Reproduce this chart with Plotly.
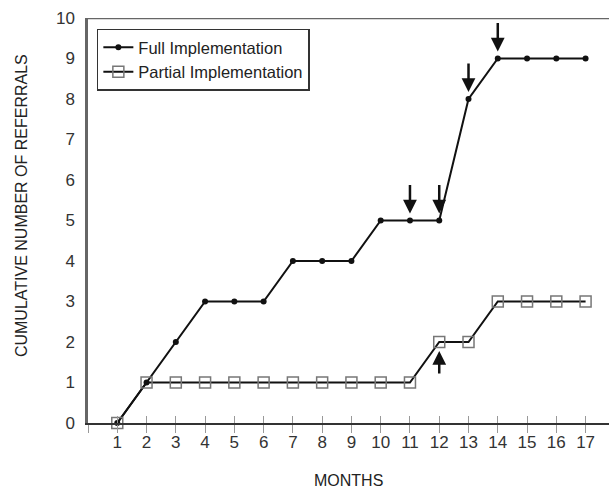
import plotly.graph_objects as go

months = list(range(1, 18))
full_impl = [0, 1, 2, 3, 3, 3, 4, 4, 4, 5, 5, 5, 8, 9, 9, 9, 9]
partial_impl = [0, 1, 1, 1, 1, 1, 1, 1, 1, 1, 1, 2, 2, 3, 3, 3, 3]
down_arrow_months = [11, 12, 13, 14]
up_arrow_months = [12]
x_tick_vals = list(range(0, 18))
x_tick_text = [""] + [str(m) for m in months]
y_tick_vals = list(range(0, 11))

FONT = "Liberation Sans, Arial, sans-serif"

fig = go.Figure()
fig.add_trace(go.Scatter(
    x=months, y=full_impl, name="Full Implementation", mode="lines+markers",
    line=dict(color="#111111", width=2),
    marker=dict(symbol="circle", size=6, color="#111111"),
    cliponaxis=False,
))
fig.add_trace(go.Scatter(
    x=months, y=partial_impl, name="Partial Implementation", mode="lines+markers",
    line=dict(color="#111111", width=2),
    marker=dict(symbol="square-open", size=11, color="#777777", line=dict(width=1.5)),
    cliponaxis=False,
))
# invisible trace to host inside ticks on overlay axis
fig.add_trace(go.Scatter(x=[None], y=[None], xaxis="x2", showlegend=False, hoverinfo="skip"))

for m in down_arrow_months:
    fig.add_annotation(x=m, y=full_impl[m - 1], ax=0, ay=-37, showarrow=True,
                       arrowhead=2, arrowsize=1.1, arrowwidth=2.5, arrowcolor="#111111",
                       standoff=7, text="")
for m in up_arrow_months:
    fig.add_annotation(x=m, y=partial_impl[m - 1], ax=0, ay=33, showarrow=True,
                       arrowhead=2, arrowsize=1.1, arrowwidth=2.5, arrowcolor="#111111",
                       standoff=9, text="")

# axis titles
fig.add_annotation(text="CUMULATIVE NUMBER OF REFERRALS", xref="paper", yref="paper",
                   x=-0.1286, y=0.538, textangle=-90, showarrow=False,
                   xanchor="center", yanchor="middle",
                   font=dict(family=FONT, size=16, color="#222222"))
fig.add_annotation(text="MONTHS", xref="paper", yref="paper",
                   x=0.5, y=-0.142, showarrow=False,
                   xanchor="center", yanchor="middle",
                   font=dict(family=FONT, size=16, color="#222222"))

fig.add_shape(type="line", xref="paper", yref="y", x0=0, x1=1, y0=10, y1=10,
              line=dict(color="#666666", width=2.5))

fig.update_layout(
    width=609, height=491,
    margin=dict(l=88, r=0, t=18, b=68, autoexpand=False),
    paper_bgcolor="white", plot_bgcolor="white",
    font=dict(family=FONT, size=14, color="#333333"),
    showlegend=True,
    legend=dict(x=0.017, y=0.974, xanchor="left", yanchor="top",
                bordercolor="#333333", borderwidth=1.5, bgcolor="white",
                font=dict(family=FONT, size=16.5, color="#222222"),
                itemwidth=30, tracegroupgap=0),
    xaxis=dict(range=[0, 17.8], tickvals=x_tick_vals, ticktext=x_tick_text,
               ticks="outside", ticklen=8, tickcolor="#999999", tickwidth=1,
               showline=True, linecolor="#333333", linewidth=2,
               showgrid=False, zeroline=False, automargin=False,
               ticklabelstandoff=-5,
               tickfont=dict(size=17, color="#333333")),
    xaxis2=dict(range=[0, 17.8], overlaying="x", tickvals=x_tick_vals,
                showticklabels=False, ticks="inside", ticklen=7, tickcolor="#999999",
                tickwidth=1, showgrid=False, zeroline=False, side="bottom",
                anchor="y", automargin=False),
    yaxis=dict(range=[0, 10], tickvals=y_tick_vals, ticks="", showline=True,
               linecolor="#666666", linewidth=2.5, showgrid=False, zeroline=False,
               ticklabelstandoff=7, automargin=False,
               tickfont=dict(size=17, color="#333333")),
)

fig.write_html("out.html", config={"displayModeBar": False},
               post_script="document.body.style.margin='0';")
